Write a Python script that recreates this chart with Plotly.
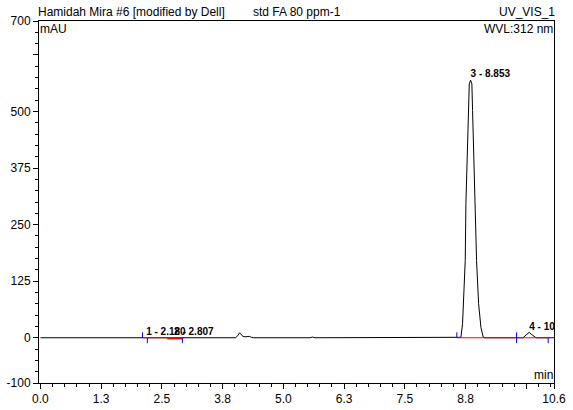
import plotly.graph_objects as go

# ---- data ----
time_min = [0.00, 2.00, 2.18, 2.25, 2.81, 2.90, 3.50, 3.56, 3.62,
            4.02, 4.07, 4.10, 4.13, 4.17, 4.21, 4.26, 4.30, 4.34, 4.38,
            5.55, 5.60, 5.65,
            8.620, 8.654, 8.688, 8.723, 8.743, 8.757, 8.784, 8.798, 8.826, 8.853,
            8.880, 8.894, 8.915, 8.942, 8.976, 9.018, 9.066, 9.114, 9.150,
            9.93, 9.99, 10.03, 10.06, 10.10, 10.14, 10.20, 10.57]
signal_mAU = [0, 0, 0.5, 0, 0.5, 0, 0, 1.5, 0,
              0, 6, 11, 7, 3, 2, 2.5, 3, 1, 0,
              0, 1.5, 0,
              0, 1, 31, 104, 171, 296, 399, 502, 561, 569,
              561, 502, 399, 296, 171, 75, 23, 1, 0,
              0, 5, 9, 12, 8, 4, 0, 0]

peak_labels = ["1 - 2.180", "2 - 2.807", "3 - 8.853", "4 - 10.060"]
peak_label_x = [2.175, 2.751, 8.853, 10.06]
peak_label_y = [12, 12, 581, 23]

# integration marks
start_marks = [2.10, 8.57, 9.80]
end_marks = [2.20, 2.92, 9.80, 10.45]
baseline_segments = [(2.10, 2.92), (8.57, 10.45)]
thick_segment = (2.61, 2.92)

x_tickvals = [0, 1.25, 2.5, 3.75, 5.0, 6.25, 7.5, 8.75, 10.0, 10.57]
x_ticktext = ["0.0", "1.3", "2.5", "3.8", "5.0", "6.3", "7.5", "8.8", "", "10.6"]
y_tickvals = [-100, 0, 125, 250, 375, 500, 625, 700]
y_ticktext = ["-100", "0", "125", "250", "375", "500", "", "700"]

FONT = "Arial, Liberation Sans, sans-serif"

fig = go.Figure()

fig.add_trace(go.Scatter(x=time_min, y=signal_mAU, mode="lines",
                         line=dict(color="black", width=1), hoverinfo="skip"))

# red baselines
bx, by = [], []
for a, b in baseline_segments:
    bx += [a, b, None]
    by += [0, 0, None]
fig.add_trace(go.Scatter(x=bx, y=by, mode="lines",
                         line=dict(color="#ff0000", width=1), hoverinfo="skip"))
fig.add_trace(go.Scatter(x=list(thick_segment), y=[-1.5, -1.5], mode="lines",
                         line=dict(color="#ff0000", width=2), hoverinfo="skip"))

# blue delimiters
mx, my = [], []
for s in start_marks:
    mx += [s, s, None]
    my += [0, 12, None]
for e in end_marks:
    mx += [e, e, None]
    my += [0, -12, None]
fig.add_trace(go.Scatter(x=mx, y=my, mode="lines",
                         line=dict(color="#0000ff", width=1), hoverinfo="skip"))

# peak labels (clipped by the plot area)
fig.add_trace(go.Scatter(x=peak_label_x, y=peak_label_y, mode="text",
                         text=["<b>%s</b>" % t for t in peak_labels],
                         textposition="middle right",
                         textfont=dict(family=FONT, size=10, color="black"),
                         cliponaxis=True, hoverinfo="skip"))

axis_common = dict(showgrid=False, zeroline=False, showline=True, linecolor="black",
                   linewidth=1, mirror=True, ticks="outside", ticklen=5,
                   tickcolor="black", tickwidth=1, automargin=False,
                   tickfont=dict(family=FONT, size=12, color="black"))

fig.update_xaxes(range=[-0.03, 10.57], tickmode="array", tickvals=x_tickvals,
                 ticktext=x_ticktext,
                 minor=dict(tickmode="linear", tick0=0, dtick=0.25, ticks="outside",
                            ticklen=3, tickcolor="black"),
                 **axis_common)
fig.update_yaxes(range=[-100, 700], tickmode="array", tickvals=y_tickvals,
                 ticktext=y_ticktext,
                 minor=dict(tickmode="linear", tick0=0, dtick=25, ticks="outside",
                            ticklen=3, tickcolor="black"),
                 **axis_common)

def txt(s, x, y, xa):
    return dict(text=s, x=x, y=y, xref="paper", yref="paper", xanchor=xa,
                yanchor="middle", showarrow=False, borderpad=0, borderwidth=0,
                font=dict(family=FONT, size=12, color="black"))

fig.update_layout(
    width=573, height=410,
    margin=dict(l=39, r=19, t=21, b=27),
    paper_bgcolor="white", plot_bgcolor="white",
    showlegend=False,
    annotations=[
        txt("Hamidah Mira #6 [modified by Dell]", -0.002, 1.025, "left"),
        txt("std FA 80 ppm-1", 0.4155, 1.025, "left"),
        txt("UV_VIS_1", 1.002, 1.025, "right"),
        txt("mAU", 0.002, 0.978, "left"),
        txt("WVL:312 nm", 0.998, 0.978, "right"),
        txt("min", 0.998, 0.022, "right"),
    ],
)

fig.write_html("out.html", config={"displayModeBar": False},
               post_script="document.body.style.margin='0';document.body.style.overflow='hidden';")
